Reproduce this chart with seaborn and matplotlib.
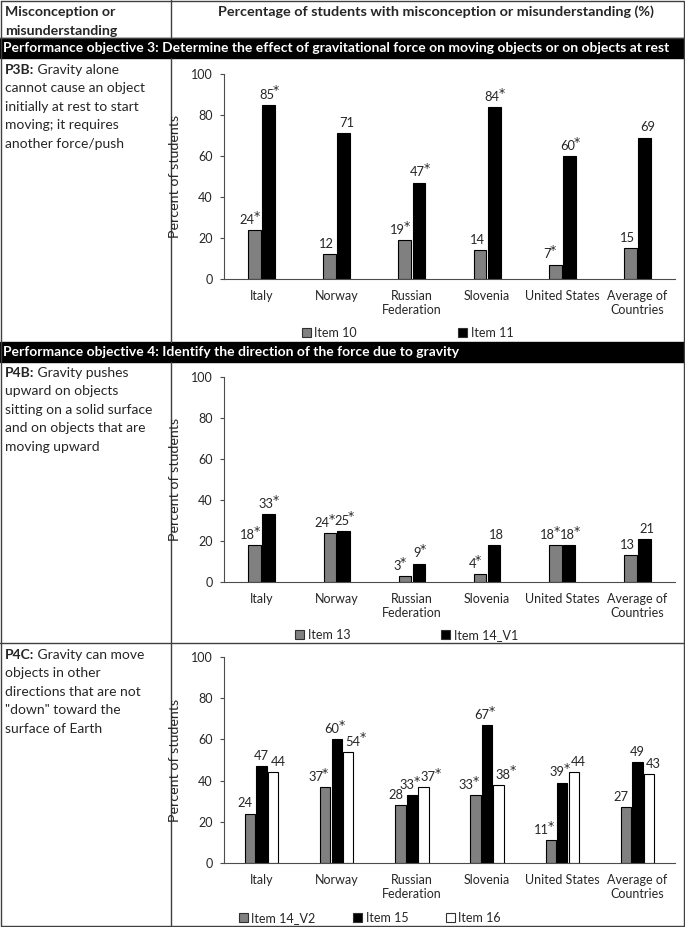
import matplotlib
matplotlib.use('Agg')
import matplotlib.pyplot as plt
import seaborn as sns
import pandas as pd
from matplotlib.patches import Rectangle, Patch

# categorias (paises) comuns aos tres graficos
countries = ['Italy', 'Norway', 'Russian\nFederation', 'Slovenia', 'United States', 'Average of\nCountries']

# P3B: itens 10 e 11
p3b_items = ['Item 10', 'Item 11']
p3b_item10 = [24, 12, 19, 14, 7, 15]
p3b_item11 = [85, 71, 47, 84, 60, 69]
p3b_star10 = [1, 0, 1, 0, 1, 0]
p3b_star11 = [1, 0, 1, 1, 1, 0]

# P4B: itens 13 e 14_V1
p4b_items = ['Item 13', 'Item 14_V1']
p4b_item13 = [18, 24, 3, 4, 18, 13]
p4b_item14 = [33, 25, 9, 18, 18, 21]
p4b_star13 = [1, 1, 1, 1, 1, 0]
p4b_star14 = [1, 1, 1, 0, 1, 0]

# P4C: itens 14_V2, 15 e 16
p4c_items = ['Item 14_V2', 'Item 15', 'Item 16']
p4c_item14 = [24, 37, 28, 33, 11, 27]
p4c_item15 = [47, 60, 33, 67, 39, 49]
p4c_item16 = [44, 54, 37, 38, 44, 43]
p4c_star14 = [0, 1, 0, 1, 1, 0]
p4c_star15 = [0, 1, 1, 1, 1, 0]
p4c_star16 = [0, 1, 1, 1, 0, 0]

item_colors = {'Item 10': '#808080', 'Item 11': '#000000',
               'Item 13': '#808080', 'Item 14_V1': '#000000',
               'Item 14_V2': '#808080', 'Item 15': '#000000', 'Item 16': '#ffffff'}

sns.set_theme(style='white')
plt.rcParams['font.family'] = ['Lato', 'DejaVu Sans']

W, H = 685, 927
fig = plt.figure(figsize=(W / 100, H / 100), dpi=100)
fig.patch.set_facecolor('white')

# eixo de fundo em pixels para a tabela
bg = fig.add_axes([0, 0, 1, 1])
bg.set_xlim(0, W)
bg.set_ylim(H, 0)
bg.axis('off')

LINE = '#404040'
TXT = 10
# bordas da tabela
bg.plot([0.5, 684.5, 684.5, 0.5, 0.5], [0.5, 0.5, 925.5, 925.5, 0.5], color=LINE, lw=1)
bg.plot([0, W], [38, 38], color=LINE, lw=1)
bg.plot([0, W], [643, 643], color=LINE, lw=1)
for y0, y1 in [(0, 38), (58, 342), (362, 926)]:
    bg.plot([171, 171], [y0, y1], color=LINE, lw=1)

# faixas pretas
for y0, txt in [(38, 'Performance objective 3: Determine the effect of gravitational force on moving objects or on objects at rest'),
                (342, 'Performance objective 4: Identify the direction of the force due to gravity')]:
    bg.add_patch(Rectangle((0, y0), W, 20, color='black'))
    bg.text(3, y0 + 10, txt, color='white', fontweight='bold', fontsize=TXT, va='center', ha='left')

# cabecalho
bg.text(5, 12, 'Misconception or', fontweight='bold', fontsize=10.2, va='center')
bg.text(5, 31, 'misunderstanding', fontweight='bold', fontsize=10.2, va='center')
bg.text(436, 12, 'Percentage of students with misconception or misunderstanding (%)',
        fontweight='bold', fontsize=10.4, va='center', ha='center')


def left_cell(y_first, code, first, rest):
    t = bg.text(5, y_first, code, fontweight='bold', fontsize=TXT, va='center', ha='left')
    bg.annotate(' ' + first, xy=(1, 0.5), xycoords=t, fontsize=TXT, va='center', ha='left')
    for i, line in enumerate(rest):
        bg.text(5, y_first + 18.4 * (i + 1), line, fontsize=TXT, va='center', ha='left')


left_cell(70, 'P3B:', 'Gravity alone', ['cannot cause an object', 'initially at rest to start',
                                          'moving; it requires', 'another force/push'])
left_cell(373, 'P4B:', 'Gravity pushes', ['upward on objects', 'sitting on a solid surface',
                                            'and on objects that are', 'moving upward'])
left_cell(655, 'P4C:', 'Gravity can move', ['objects in other', 'directions that are not',
                                              '"down" toward the', 'surface of Earth'])


def draw_chart(top, bottom, items, series, stars, width, leg_x, leg_y, colspace):
    ax = fig.add_axes([224 / W, 1 - bottom / H, (675 - 224) / W, (bottom - top) / H])
    df = pd.DataFrame({
        'country': countries * len(items),
        'item': [it for it in items for _ in countries],
        'value': [v for s in series for v in s],
    })
    sns.barplot(data=df, x='country', y='value', hue='item', order=countries, hue_order=items,
                palette={it: item_colors[it] for it in items}, saturation=1, width=width, gap=0.1,
                edgecolor='black', linewidth=0.8, errorbar=None, legend=False, ax=ax)
    # rotulos de valor, com asterisco elevado quando significativo
    shifts = [-2, 2] if len(items) == 2 else [-3.5, 0, 3.5]
    star_shift = [3.5, 3.5] if len(items) == 2 else [3.5, 3.5, 0]
    for cont, vals, st, dx, sx in zip(ax.containers, series, stars, shifts, star_shift):
        labs = ax.bar_label(cont, labels=[str(v) for v in vals], padding=3, fontsize=9.3)
        for lab, s in zip(labs, st):
            lab.xyann = (dx - (sx if s else 0), 3)
            if s:
                ax.annotate('*', xy=(1, 0.8), xycoords=lab, xytext=(-0.8, 0), textcoords='offset points',
                            ha='left', va='center', fontsize=9, family='DejaVu Sans')
    ax.set_ylim(0, 100)
    ax.set_xlim(-0.5, 5.5)
    ax.set_yticks(range(0, 101, 20))
    ax.set_xlabel('')
    ax.set_ylabel('Percent of students', fontsize=10.3)
    ax.yaxis.set_label_coords(-43 / (675 - 224), 0.5)
    ax.set_facecolor('none')
    for s in ['top', 'right']:
        ax.spines[s].set_visible(False)
    for s in ['left', 'bottom']:
        ax.spines[s].set_color('#4d4d4d')
        ax.spines[s].set_linewidth(0.8)
    ax.tick_params(axis='y', length=3, width=0.8, color='#4d4d4d', direction='out', pad=5, labelsize=9, left=True)
    ax.tick_params(axis='x', length=0, pad=8, labelsize=9)
    handles = [Patch(facecolor=item_colors[it], edgecolor='#303030', lw=0.8) for it in items]
    fig.legend(handles, items, loc='center left', bbox_to_anchor=(leg_x / W, 1 - leg_y / H),
               ncol=len(items), frameon=False, handlelength=0.7, handleheight=0.7,
               handletextpad=0.3, columnspacing=colspace, borderpad=0, borderaxespad=0, fontsize=9)
    return ax


draw_chart(74, 279, p3b_items, [p3b_item10, p3b_item11], [p3b_star10, p3b_star11],
           0.38, 302, 333, 8.1)
draw_chart(377, 582, p4b_items, [p4b_item13, p4b_item14], [p4b_star13, p4b_star14],
           0.37, 295, 635, 7.3)
draw_chart(657, 863, p4c_items, [p4c_item14, p4c_item15, p4c_item16],
           [p4c_star14, p4c_star15, p4c_star16], 0.46, 239, 918, 3.0)

fig.savefig('out.png', dpi=100)
